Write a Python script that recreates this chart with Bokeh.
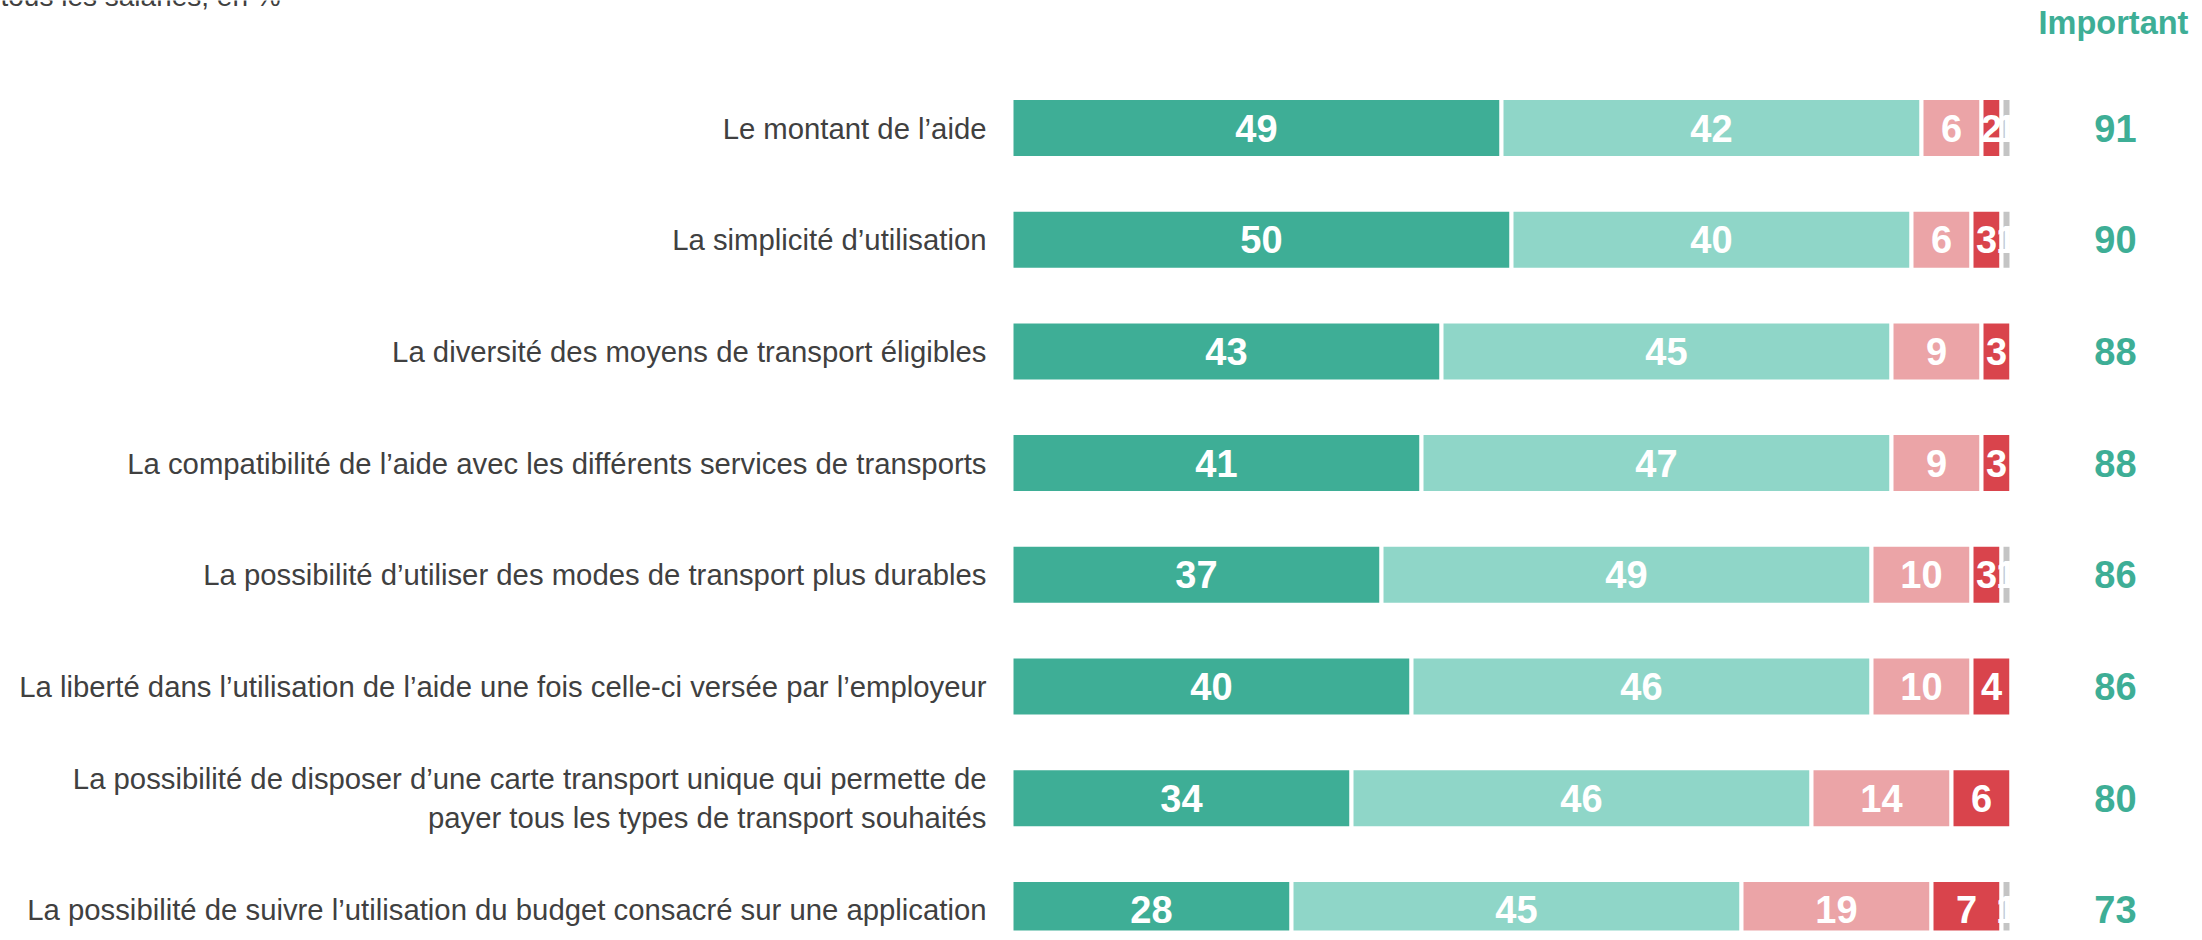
from bokeh.plotting import figure
from bokeh.models import Range1d, ColumnDataSource
from bokeh.core.properties import value
from bokeh.embed import file_html
from bokeh.resources import INLINE

# ---------------- data ----------------
categories = [
    "Le montant de l\u2019aide",
    "La simplicit\u00e9 d\u2019utilisation",
    "La diversit\u00e9 des moyens de transport \u00e9ligibles",
    "La compatibilit\u00e9 de l\u2019aide avec les diff\u00e9rents services de transports",
    "La possibilit\u00e9 d\u2019utiliser des modes de transport plus durables",
    "La libert\u00e9 dans l\u2019utilisation de l\u2019aide une fois celle-ci vers\u00e9e par l\u2019employeur",
    "La possibilit\u00e9 de disposer d\u2019une carte transport unique qui permette de\npayer tous les types de transport souhait\u00e9s",
    "La possibilit\u00e9 de suivre l\u2019utilisation du budget consacr\u00e9 sur une application",
]
tres_important = [49, 50, 43, 41, 37, 40, 34, 28]
plutot_important = [42, 40, 45, 47, 49, 46, 46, 45]
peu_important = [6, 6, 9, 9, 10, 10, 14, 19]
pas_important = [2, 3, 3, 3, 3, 4, 6, 7]
nsp = [1, 1, 0, 0, 1, 0, 0, 1]
important_total = [91, 90, 88, 88, 86, 86, 80, 73]

series = [tres_important, plutot_important, peu_important, pas_important, nsp]
colors = ["#3EAE96", "#8FD6C8", "#EBA4A7", "#D9444C", "#C4C4C4"]

subtitle = "tous les salari\u00e9s, en %"
header = "Important"

# ---------------- layout ----------------
W, H = 2194, 932
PX_PER_UNIT = 10.0      # px per percentage point
X0 = 1011               # canvas px of 0 %
ROW_PX = 111.7          # px between bars
Y0 = 127.5              # canvas px of first bar centre

FONT = value("Liberation Sans")
GREEN = "#3EAE96"
GREY_TXT = "#404040"

p = figure(
    width=W, height=H, output_backend="svg", toolbar_location=None,
    x_range=Range1d(-X0 / PX_PER_UNIT, (W - X0) / PX_PER_UNIT),
    y_range=Range1d((H - Y0) / ROW_PX, -Y0 / ROW_PX),
    min_border=0, min_border_left=0, min_border_right=0,
    min_border_top=0, min_border_bottom=0,
    x_axis_location=None, y_axis_location=None,
    outline_line_color=None,
)
p.xgrid.visible = False
p.ygrid.visible = False
p.background_fill_color = "white"
p.border_fill_color = "white"

rows = list(range(len(categories)))
bar_h = 60 / ROW_PX

left = [0] * len(rows)
for vals, col in zip(series, colors):
    right = [l + v for l, v in zip(left, vals)]
    src = ColumnDataSource(dict(
        y=rows, left=left, right=right,
        mid=[(l + r) / 2 for l, r in zip(left, right)],
        lab=[str(v) if v > 0 else "" for v in vals],
    ))
    p.hbar(y="y", left="left", right="right", height=bar_h, source=src,
           fill_color=col, line_color="white", line_width=4)
    p.text(x="mid", y="y", text="lab", source=src, text_color="white",
           text_font=FONT, text_font_style="bold", text_font_size="38px",
           text_align="center", text_baseline="middle")
    left = right

# category labels
lab_src = ColumnDataSource(dict(x=[-2.5] * len(rows), y=rows, t=categories))
p.text(x="x", y="y", text="t", source=lab_src, text_color=GREY_TXT,
       text_font=FONT, text_font_size="29.3px", text_align="right",
       text_baseline="middle", text_line_height=1.18)

# totals
tot_src = ColumnDataSource(dict(x=[110.4] * len(rows), y=rows,
                                t=[str(v) for v in important_total]))
p.text(x="x", y="y", text="t", source=tot_src, text_color=GREEN,
       text_font=FONT, text_font_style="bold", text_font_size="38px",
       text_align="center", text_baseline="middle")

# header
p.text(x=[110.2], y=[(22 - Y0) / ROW_PX], text=[header], text_color=GREEN,
       text_font=FONT, text_font_style="bold", text_font_size="32.5px",
       text_align="center", text_baseline="middle")

# subtitle (cut at the top as in the reference)
p.text(x=[-X0 / PX_PER_UNIT], y=[(-4 - Y0) / ROW_PX], text=[subtitle],
       text_color=GREY_TXT, text_font=FONT, text_font_size="28px",
       text_align="left", text_baseline="alphabetic")

open("out.html", "w").write(file_html(p, INLINE))
